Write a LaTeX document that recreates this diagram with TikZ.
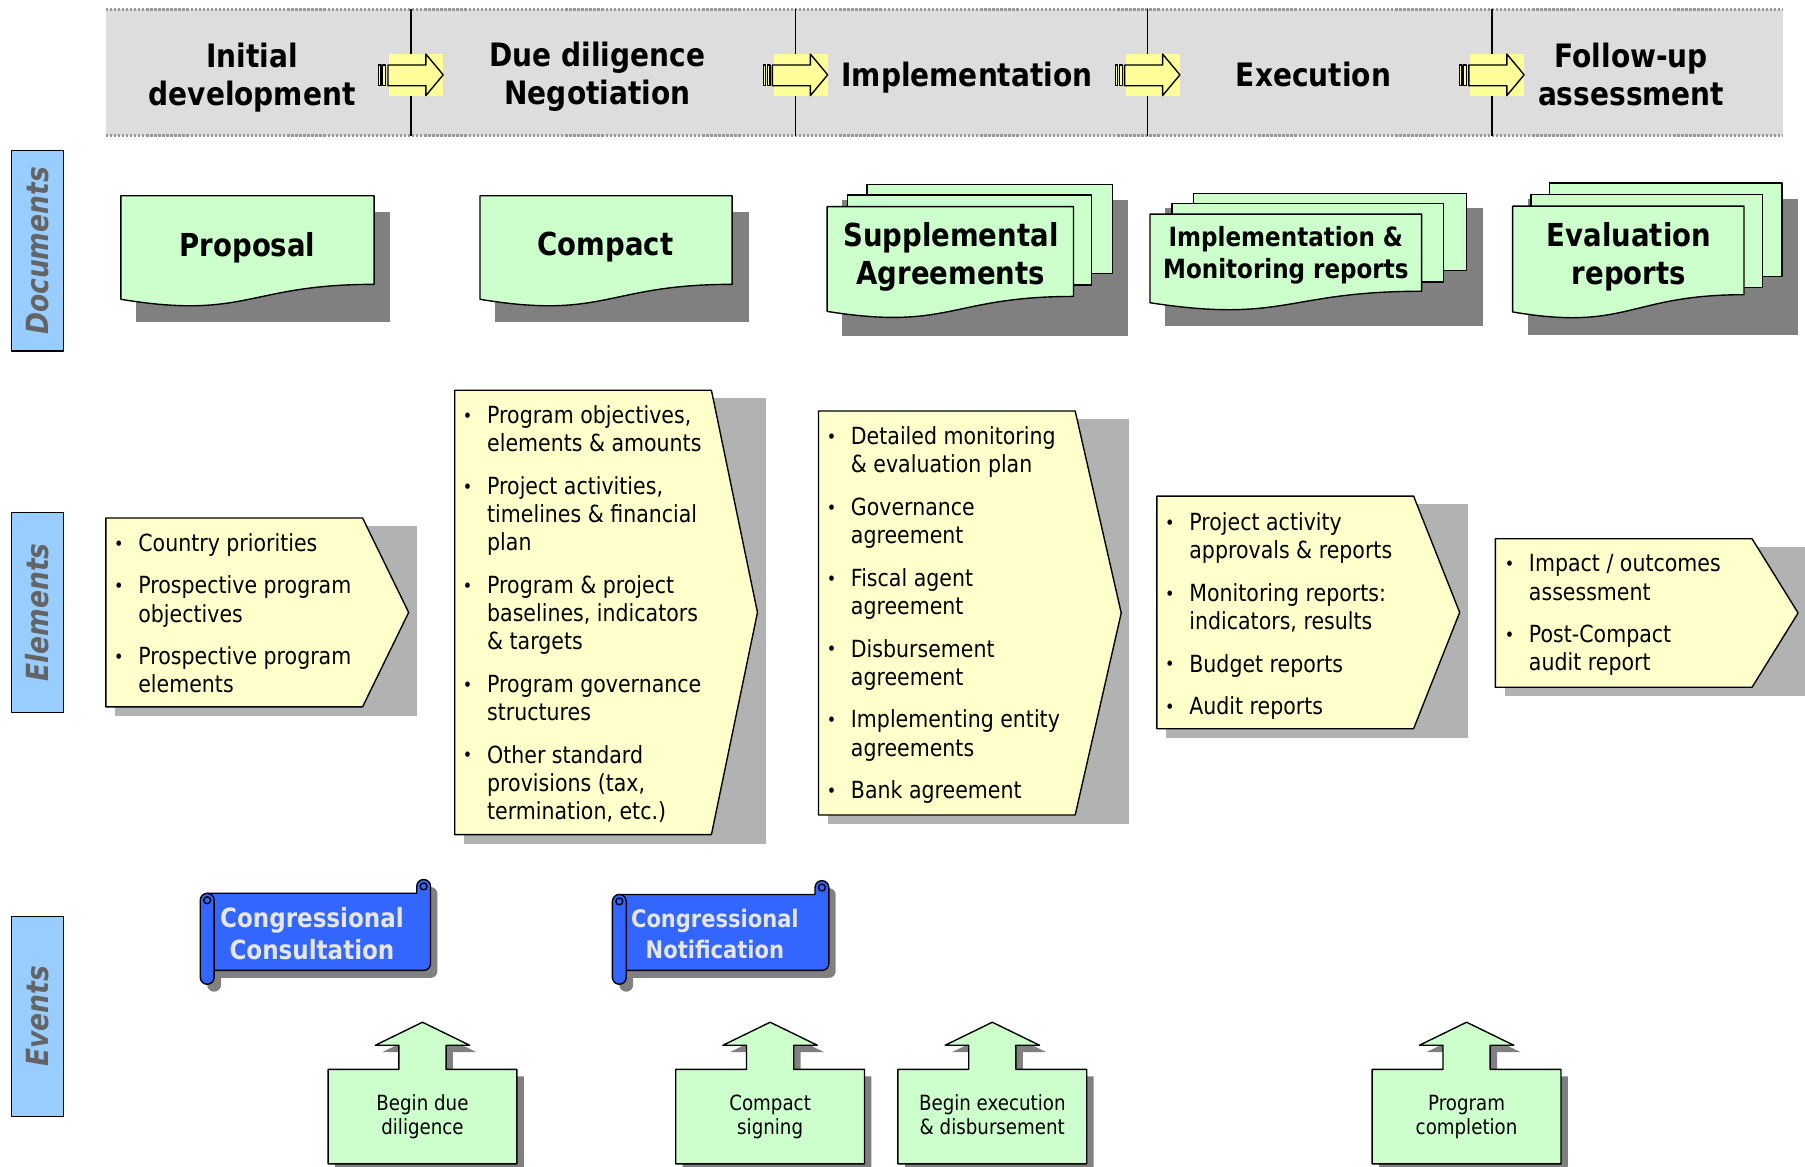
\documentclass[tikz,border=0pt]{standalone}
\usepackage{fontspec}
\setmainfont{DejaVu Sans}[FakeStretch=0.87]
\usepackage{tikz}
\definecolor{band}{RGB}{221,221,221}
\definecolor{docfill}{RGB}{204,255,204}
\definecolor{notefill}{RGB}{255,255,204}
\definecolor{scrollfill}{RGB}{51,102,255}
\definecolor{tabfill}{RGB}{153,204,255}
\definecolor{darkshade}{RGB}{128,128,128}
\definecolor{lightshade}{RGB}{178,178,178}
\definecolor{arrowfill}{RGB}{255,255,153}
\definecolor{labelgray}{RGB}{100,100,100}
\definecolor{scrolltext}{RGB}{230,230,230}
\setlength{\lineskip}{0pt}
\newcommand{\bul}[1]{\makebox[21pt][l]{\raisebox{1pt}{\fontsize{16}{16}\selectfont\textbullet}}\begin{tabular}[t]{@{}l@{}}#1\end{tabular}}
\newcommand{\phasearrow}[1]{%
    \fill[arrowfill] (#1-19,47) rectangle (#1+28,83);
    \draw[outline,fill=arrowfill] (#1-28,56.5) rectangle (#1-26,74.5);
    \draw[outline,fill=arrowfill] (#1-24.5,56.5) rectangle (#1-22,74.5);
    \draw[outline,fill=arrowfill] (#1-20,56.5) -- (#1+13,56.5) -- (#1+13,47) -- (#1+28,65)
        -- (#1+13,83) -- (#1+13,74.5) -- (#1-20,74.5) -- cycle;
}
\newcommand{\docpage}[6]{%
    \draw[outline,fill=docfill] (#1,#2) -- (#3,#2) -- (#3,#2+#4)
        .. controls ({(#1+#3)/2},#2+#4) and ({(#1+#3)/2},#2+#6) .. (#1,#2+#5) -- cycle;
}
\newcommand{\sheet}[4]{\draw[outline,fill=docfill] (#1,#2) rectangle (#3,#4);}
\newcommand{\notebox}[3]{%
    \fill[lightshade] (#1+8,#2+7) rectangle (#1+270,#3+8);
    \draw[outline,fill=notefill] (#1,#2) -- (#1+223,#2) -- (#1+263,{(#2+#3)/2})
        -- (#1+223,#3) -- (#1,#3) -- cycle;
}
\def\eventshape{(-82,123) -- (-82,41) -- (-20.5,41) -- (-20.5,20) -- (-41,20) -- (0,0)
    -- (41,20) -- (20.5,20) -- (20.5,41) -- (82,41) -- (82,123) -- cycle}
\newcommand{\eventbox}[1]{%
    \fill[darkshade,shift={(#1+6,894)}] \eventshape;
    \draw[outline,fill=docfill,shift={(#1,888)}] \eventshape;
}
\newcommand{\scrollshape}[2]{(6,0) -- (#1-12,0) -- (#1-12,-6) arc[start angle=180,end angle=360,radius=6]
    -- (#1,#2-6) arc[start angle=0,end angle=90,radius=6] -- (6,#2) -- cycle}
\newcommand{\scroll}[4]{%
    \begin{scope}[shift={(#1+6,#2+6.5)}]
        \fill[darkshade] \scrollshape{#3}{#4};
        \fill[darkshade,rounded corners=6] (0,0) rectangle (12,#4+12);
    \end{scope}
    \begin{scope}[shift={(#1,#2)}]
        \draw[outline,fill=scrollfill] \scrollshape{#3}{#4};
        \draw[outline] (#3-6,-6) circle[radius=3];
        \draw[outline,fill=scrollfill,rounded corners=6] (0,0) rectangle (12,#4+12);
        \draw[outline] (6,6) circle[radius=3];
    \end{scope}
}

\begin{document}
\begin{tikzpicture}[x=1pt,y=-1pt,line join=round,
    outline/.style={draw=black,line width=1.2pt},
    dotline/.style={draw=gray!80,line width=2.5pt,dash pattern=on 2pt off 1.5pt},
    phase/.style={font=\bfseries\fontsize{28}{33}\selectfont,align=center,inner sep=0},
    doctext/.style={font=\bfseries\fontsize{27.5}{33}\selectfont,align=center,inner sep=0},
    notetext/.style={anchor=north west,inner sep=0,align=left,font=\fontsize{20.5}{24.5}\selectfont},
    eventtext/.style={font=\fontsize{18.2}{21}\selectfont,align=center,inner sep=0},
    scrolltxt/.style={font=\bfseries\fontsize{23}{28}\selectfont,text=scrolltext,align=center,inner sep=0},
    sidetext/.style={rotate=90,font=\bfseries\itshape\fontsize{26.5}{30}\selectfont,text=labelgray,inner sep=0}]
    \useasboundingbox (0,0) rectangle (1568,1013);

    \fill[band] (92,8) rectangle (1549,118);
    \draw[dotline] (92,8) -- (1549,8);
    \draw[dotline] (92,118) -- (1549,118);
    \foreach \xd in {357,691,997,1296} {
        \draw[line width=1.3pt] (\xd,8) -- (\xd,118);
        \phasearrow{\xd}
    }
    \node[phase] (initial) at (219,67) {Initial\\development};
    \node[phase] (diligence) at (519,67) {Due diligence\\Negotiation};
    \node[phase] (implementation) at (840,67.5) {Implementation};
    \node[phase] (execution) at (1141,65) {Execution};
    \node[phase] (followup) at (1417,64.5) {Follow-up\\assessment};

    \foreach \t/\b/\name in {131/305/Documents, 445/619/Elements, 796/970/Events} {
        \draw[outline,fill=tabfill] (10,\t) rectangle (55,\b);
        \node[sidetext] (\name) at (32.5,{(\t+\b)/2}) {\name};
    }

    \fill[darkshade] (118.5,184) rectangle (339,280);
    \docpage{105}{170}{325}{77}{90}{108}
    \node[doctext] (proposal) at (215,215) {Proposal};
    \fill[darkshade] (430,184) rectangle (651,280);
    \docpage{417}{170}{636}{77}{90}{108}
    \node[doctext] (compact) at (526,215) {Compact};
    \fill[darkshade] (731,174) rectangle (980,291.5);
    \foreach \a/\b/\c/\d in {753/160/966.5/237.5, 736/169.5/948/247.5} {\sheet{\a}{\b}{\c}{\d}}
    \docpage{718.5}{179.5}{932.5}{78}{91}{108}
    \node[doctext] (supplemental) at (826,223) {Supplemental\\Agreements};
    \fill[darkshade] (1012,181) rectangle (1288,283);
    \foreach \a/\b/\c/\d in {1037/168/1274/235, 1018/177/1254/245} {\sheet{\a}{\b}{\c}{\d}}
    \docpage{999}{186}{1235}{67}{77}{95}
    \node[doctext,font=\bfseries\fontsize{23}{28}\selectfont] (monitoring) at (1117,222)
        {Implementation \&\\Monitoring reports};
    \fill[darkshade] (1327,173) rectangle (1562,291);
    \foreach \a/\b/\c/\d in {1346/159/1548/240, 1330/169/1531/250} {\sheet{\a}{\b}{\c}{\d}}
    \docpage{1314}{179}{1515}{77}{92}{109}
    \node[doctext] (evaluation) at (1415,223) {Evaluation\\reports};

    \foreach \l/\t/\b in {92/450/614, 395/339/725, 711/357/708, 1005/431/633, 1299/468/597} {
        \notebox{\l}{\t}{\b}
    }
    \node[notetext] (proposalitems) at (99,461.5) {\bul{Country priorities}\\[12.5pt]
        \bul{Prospective program\\objectives}\\[12.5pt]\bul{Prospective program\\elements}};
    \node[notetext] (compactitems) at (402,350.5) {\bul{Program objectives,\\elements \& amounts}\\[12.5pt]
        \bul{Project activities,\\timelines \& financial\\plan}\\[12.5pt]
        \bul{Program \& project\\baselines, indicators\\\& targets}\\[12.5pt]
        \bul{Program governance\\structures}\\[12.5pt]
        \bul{Other standard\\provisions (tax,\\termination, etc.)}};
    \node[notetext] (supplementitems) at (718,369) {\bul{Detailed monitoring\\\& evaluation plan}\\[12.5pt]
        \bul{Governance\\agreement}\\[12.5pt]\bul{Fiscal agent\\agreement}\\[12.5pt]
        \bul{Disbursement\\agreement}\\[12.5pt]\bul{Implementing entity\\agreements}\\[12.5pt]
        \bul{Bank agreement}};
    \node[notetext] (reportitems) at (1012,443.5) {\bul{Project activity\\approvals \& reports}\\[12.5pt]
        \bul{Monitoring reports:\\indicators, results}\\[12.5pt]\bul{Budget reports}\\[12.5pt]
        \bul{Audit reports}};
    \node[notetext] (evaluationitems) at (1307,479.5) {\bul{Impact / outcomes\\assessment}\\[12.5pt]
        \bul{Post-Compact\\audit report}};

    \scroll{174}{776}{200}{67}
    \node[scrolltxt] (consultation) at (271,811) {Congressional\\Consultation};
    \scroll{532}{777}{188}{66}
    \node[scrolltxt,font=\bfseries\fontsize{21}{27}\selectfont] (notification) at (621,811)
        {Congressional\\Notification};

    \foreach \cx in {367,669,862,1274} {\eventbox{\cx}}
    \node[eventtext] (begindue) at (367,970) {Begin due\\diligence};
    \node[eventtext] (signing) at (669,970) {Compact\\signing};
    \node[eventtext] (beginexec) at (862,968) {Begin execution\\\& disbursement};
    \node[eventtext] (completion) at (1274,970) {Program\\completion};
\end{tikzpicture}
\end{document}
